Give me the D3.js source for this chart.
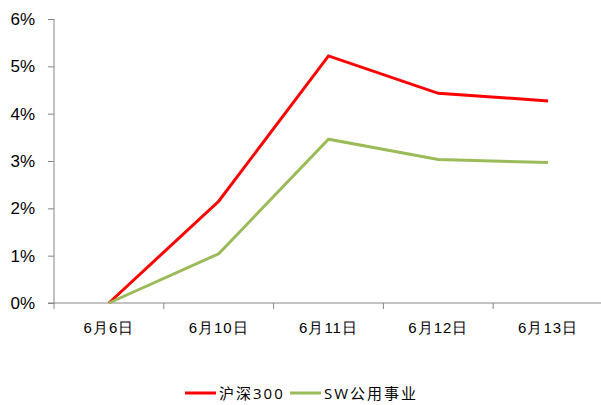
<!DOCTYPE html>
<html lang="zh">
<head>
<meta charset="UTF-8">
<script src="https://cdn.jsdelivr.net/npm/d3@7"></script>
<style>
  body { margin: 0; background: #fff; }
  svg { display: block; font-family: "Open Sans", "Noto Sans CJK SC", sans-serif; }
</style>
</head>
<body>
<svg id="chart" width="601" height="405"></svg>
<script>
// data
const dates = ["6月6日", "6月10日", "6月11日", "6月12日", "6月13日"];
const hs300 = [0, 2.15, 5.22, 4.43, 4.27];
const swUtil = [0, 1.04, 3.46, 3.03, 2.97];
const yTicks = [0, 1, 2, 3, 4, 5, 6];
const seriesNames = ["沪深300", "SW公用事业"];
const seriesColors = ["#ff0000", "#9bbb59"];

const svg = d3.select("#chart");
const plotLeft = 54, plotRight = 603, plotTop = 19, plotBottom = 303;

const x = d3.scaleBand().domain(dates).range([plotLeft, plotRight]);
const y = d3.scaleLinear().domain([0, 6]).range([plotBottom, plotTop]);

// y axis
const yAxis = svg.append("g")
  .attr("transform", `translate(${plotLeft},0)`)
  .call(d3.axisLeft(y).tickValues(yTicks).tickSize(6).tickFormat(d => d + "%"));
yAxis.select(".domain").attr("stroke", "#868686").attr("d", `M0,${plotTop}V${plotBottom}`);
yAxis.selectAll(".tick line").attr("stroke", "#868686").attr("x2", -6);
yAxis.selectAll(".tick text").attr("x", -19).attr("font-size", 17).attr("fill", "#000");

// x axis
const xAxis = svg.append("g")
  .attr("transform", `translate(0,${plotBottom})`)
  .call(d3.axisBottom(x).tickSize(0).tickFormat(d => d));
xAxis.select(".domain").attr("stroke", "#868686").attr("d", `M${plotLeft - 6},0H${plotRight}`);
xAxis.selectAll(".tick text").attr("y", 19).attr("font-size", 15)
  .attr("letter-spacing", 1).attr("fill", "#000");
xAxis.selectAll(".bt")
  .data(dates.map(d => x(d)).concat([plotRight]))
  .enter().append("line")
  .attr("x1", d => d).attr("x2", d => d)
  .attr("y1", 0).attr("y2", 6)
  .attr("stroke", "#868686");

// lines
const line = d3.line()
  .x((d, i) => x(dates[i]) + x.bandwidth() / 2)
  .y(d => y(d));

[hs300, swUtil].forEach((s, k) => {
  svg.append("path")
    .datum(s)
    .attr("fill", "none")
    .attr("stroke", seriesColors[k])
    .attr("stroke-width", 3)
    .attr("stroke-linejoin", "miter")
    .attr("d", line);
});

// legend
const legendX = [185, 290];
seriesNames.forEach((n, k) => {
  const g = svg.append("g").attr("transform", `translate(${legendX[k]},393)`);
  g.append("line").attr("x1", 0).attr("x2", 31).attr("y1", 0).attr("y2", 0)
    .attr("stroke", seriesColors[k]).attr("stroke-width", 3);
  g.append("text").attr("x", 34).attr("y", 5.5).attr("font-size", 15)
    .attr("letter-spacing", 2).attr("fill", "#000").text(n);
});
</script>
</body>
</html>
